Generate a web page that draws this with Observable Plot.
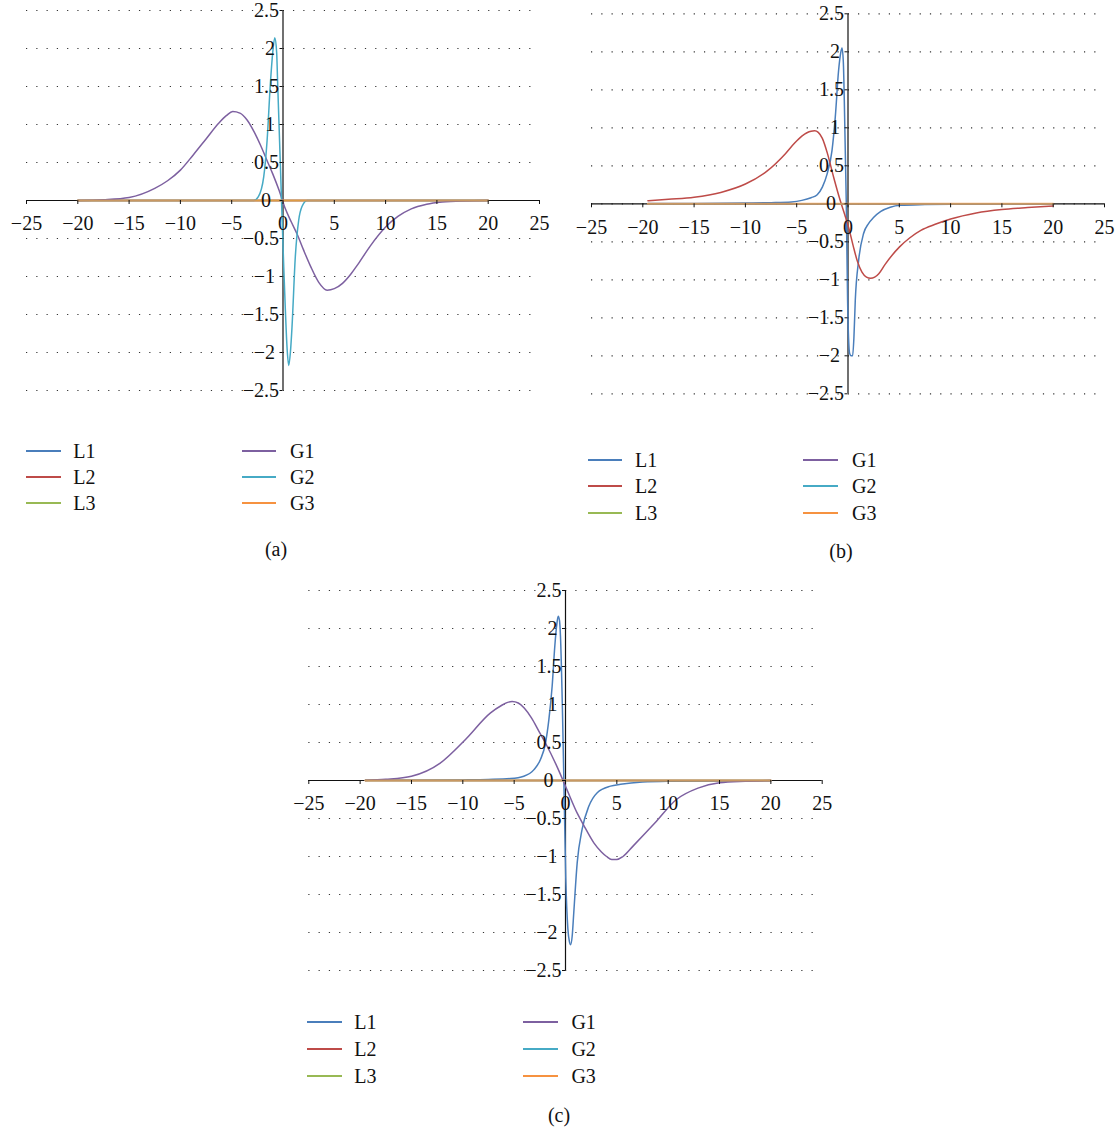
<!DOCTYPE html>
<html><head><meta charset="utf-8">
<script src="https://cdn.jsdelivr.net/npm/d3@7"></script>
<script src="https://cdn.jsdelivr.net/npm/@observablehq/plot@0.6"></script>
<style>
html,body{margin:0;padding:0;background:#fff;}
#page{position:relative;width:1120px;height:1130px;overflow:hidden;font-family:"Liberation Serif","DejaVu Serif",serif;color:#111;}
.panel{position:absolute;}
.sw{position:absolute;height:2px;}
.lt{position:absolute;font-size:20px;line-height:20px;white-space:nowrap;}
.cap{position:absolute;font-size:20px;line-height:20px;white-space:nowrap;transform:translateX(-50%);}
</style></head><body><div id="page"></div>
<script>
// ---------------- data ----------------
const seriesNames = ["L1", "L2", "L3", "G1", "G2", "G3"];
const xTickValues = [-25, -20, -15, -10, -5, 0, 5, 10, 15, 20, 25];
const yTickDecimals = [-2.5, -1.5, -0.5, 0.5, 1.5, 2.5];
const yTickIntegers = [-2, -1, 1, 2];
const yTickZero = [0];
const yGridValues = [-2.5, -2, -1.5, -1, -0.5, 0, 0.5, 1, 1.5, 2, 2.5];
const panelCaptions = ["(a)", "(b)", "(c)"];

// flat (zero) series
const zeroA_x = [-20, 20];
const zeroBC_x = [-19.5, 20];
const zero_y = [0, 0];

// panel (a)
const a_G1_x = [-20, -17.5, -15, -12.5, -11.25, -10, -8.75, -7.5, -6.25, -5.5, -4.9, -4.2, -3.5, -2.8, -2.2, -1.6, -1.0, -0.4, 0.2, 0.8, 1.4, 2.0, 2.7, 3.5, 4.3, 5.0, 5.8, 6.6, 7.3, 8.5, 10, 11.2, 12.5, 14, 15.5, 17.5, 20];
const a_G1_y = [0, 0.01, 0.04, 0.16, 0.26, 0.4, 0.6, 0.81, 1.02, 1.12, 1.17, 1.15, 1.06, 0.9, 0.73, 0.54, 0.35, 0.14, -0.1, -0.28, -0.45, -0.65, -0.87, -1.08, -1.18, -1.16, -1.09, -0.97, -0.84, -0.6, -0.35, -0.21, -0.11, -0.05, -0.02, -0.005, 0];
const a_G2_x = [-20, -5, -2.85, -2.4, -1.88, -1.55, -1.23, -1.0, -0.8, -0.62, -0.52, -0.25, -0.09, 0.07, 0.23, 0.4, 0.56, 0.72, 0.88, 1.2, 1.53, 1.85, 2.35, 5, 20];
const a_G2_y = [0, 0, 0, 0.05, 0.31, 0.79, 1.54, 1.95, 2.14, 1.95, 1.54, 0.44, -0.22, -0.87, -1.44, -1.95, -2.17, -2.0, -1.66, -0.74, -0.26, -0.08, 0, 0, 0];

// panel (b)
const b_L1_x = [-19.5, -15, -10, -7.5, -5.5, -4.5, -3.6, -3, -2.5, -2.04, -1.56, -1.24, -0.92, -0.72, -0.58, -0.45, -0.36, -0.17, -0.04, 0.16, 0.3, 0.45, 0.58, 0.71, 1.03, 1.52, 2.0, 2.49, 3.2, 4.12, 5.1, 7.5, 10, 15, 20];
const b_L1_y = [0.003, 0.005, 0.01, 0.015, 0.025, 0.045, 0.08, 0.12, 0.22, 0.39, 0.7, 1.14, 1.75, 1.98, 2.05, 1.85, 1.36, 0.04, -1.27, -1.97, -2.0, -2.0, -1.75, -1.27, -0.75, -0.39, -0.26, -0.18, -0.1, -0.045, -0.02, -0.01, -0.005, -0.003, -0.002];
const b_L2_x = [-19.5, -17.5, -15, -12.4, -10, -7.9, -6.1, -5.2, -4.5, -4.0, -3.6, -3.25, -2.9, -2.5, -2.0, -1.4, -0.75, -0.3, 0.06, 0.5, 0.9, 1.36, 1.8, 2.2, 2.6, 3.0, 3.6, 5.0, 6.0, 7.1, 8.5, 10, 12.5, 15, 17.5, 20];
const b_L2_y = [0.04, 0.06, 0.087, 0.15, 0.26, 0.43, 0.66, 0.8, 0.89, 0.935, 0.955, 0.96, 0.94, 0.86, 0.66, 0.35, 0.04, -0.15, -0.31, -0.55, -0.75, -0.9, -0.965, -0.98, -0.965, -0.92, -0.8, -0.57, -0.45, -0.35, -0.27, -0.2, -0.12, -0.075, -0.05, -0.03];

// panel (c)
const c_L1_x = [-19.5, -15, -10, -7.5, -5.36, -4.06, -3.09, -2.43, -1.95, -1.62, -1.3, -1.04, -0.85, -0.71, -0.58, -0.49, -0.29, -0.13, 0.03, 0.23, 0.38, 0.5, 0.65, 0.81, 1.14, 1.62, 2.27, 3.09, 4.38, 5.36, 7.5, 10, 15, 20];
const c_L1_y = [0.002, 0.003, 0.008, 0.014, 0.026, 0.057, 0.14, 0.28, 0.49, 0.8, 1.24, 1.77, 2.05, 2.16, 2.1, 1.9, 0.88, -0.2, -1.3, -1.95, -2.12, -2.16, -2.05, -1.73, -1.08, -0.64, -0.34, -0.16, -0.074, -0.05, -0.02, -0.01, -0.005, -0.003];
const c_G1_x = [-19.5, -17.5, -15, -12.2, -9.74, -7.3, -6.2, -5.7, -5.2, -4.6, -4.0, -3.3, -2.6, -1.9, -0.75, 0.17, 1.14, 1.74, 2.76, 3.5, 4.0, 4.5, 5.0, 5.6, 6.6, 8.7, 10.8, 12.9, 15, 17.5, 20];
const c_G1_y = [0, 0.015, 0.057, 0.23, 0.54, 0.89, 0.99, 1.025, 1.04, 1.02, 0.95, 0.82, 0.65, 0.48, 0.16, -0.13, -0.43, -0.58, -0.82, -0.94, -1.0, -1.04, -1.04, -1.0, -0.86, -0.56, -0.25, -0.1, -0.03, -0.01, 0];

// ---------------- styles ----------------
const seriesColors = {L1: "#4A7EBB", L2: "#BE4B48", L3: "#98B954", G1: "#7D60A0", G2: "#46AAC5", G3: "#F69240"};
const fontStack = "'Liberation Serif', 'DejaVu Serif', serif";

const panels = [
  {
    caption: panelCaptions[0], left: 0, top: 0, margin: [10, 21, 30, 26],
    series: {L1: [zeroA_x, zero_y], L2: [zeroA_x, zero_y], L3: [zeroA_x, zero_y], G1: [a_G1_x, a_G1_y], G2: [a_G2_x, a_G2_y], G3: [zeroA_x, zero_y]},
    legend: {rows: [450.7, 476.7, 503.3], l: [25.7, 60.7, 73.2], g: [241.8, 276, 290]},
    cap: [276, 539]
  },
  {
    caption: panelCaptions[1], left: 560, top: 0, margin: [13.3, 16, 26.7, 31],
    series: {L1: [b_L1_x, b_L1_y], L2: [b_L2_x, b_L2_y], L3: [zeroBC_x, zero_y], G1: [zeroBC_x, zero_y], G2: [zeroBC_x, zero_y], G3: [zeroBC_x, zero_y]},
    legend: {rows: [460, 486, 512.7], l: [587.9, 622.5, 635], g: [802.9, 837.9, 852.1]},
    cap: [841, 541]
  },
  {
    caption: panelCaptions[2], left: 290, top: 570, margin: [20, 28.3, 20, 18.3],
    series: {L1: [c_L1_x, c_L1_y], L2: [zeroBC_x, zero_y], L3: [zeroBC_x, zero_y], G1: [c_G1_x, c_G1_y], G2: [zeroBC_x, zero_y], G3: [zeroBC_x, zero_y]},
    legend: {rows: [1022.3, 1049, 1075.7], l: [307.1, 342.5, 354.3], g: [522.9, 557.9, 571.4]},
    cap: [559, 1105]
  }
];

const fmt = d => (d < 0 ? "\u2212" : "") + Math.abs(d);
const page = document.getElementById("page");

for (const p of panels) {
  const W = 560, H = 420;
  const [mt, mr, mb, ml] = p.margin;
  const innerW = W - ml - mr, innerH = H - mt - mb;
  const lineMarks = seriesNames.map(name => {
    const [xs, ys] = p.series[name];
    const rows = xs.map((x, i) => ({x, y: ys[i]}));
    return Plot.line(rows, {
      x: "x", y: "y", stroke: seriesColors[name],
      strokeWidth: name === "G3" ? 2 : 1.5, strokeOpacity: name === "G3" ? 0.75 : 1,
      curve: "monotone-x"
    });
  });
  const chart = Plot.plot({
    width: W, height: H,
    marginTop: mt, marginRight: mr, marginBottom: mb, marginLeft: ml,
    x: {domain: [-25, 25]},
    y: {domain: [-2.5, 2.5]},
    style: {fontFamily: fontStack, fontSize: "20px", background: "transparent", color: "#111"},
    marks: [
      Plot.gridY(yGridValues, {stroke: "#333", strokeOpacity: 1, strokeWidth: 1.2, strokeDasharray: "1.2 9.07"}),
      Plot.ruleY([0], {stroke: "#111", strokeWidth: 1.2}),
      Plot.ruleX([0], {stroke: "#111", strokeWidth: 1.2}),
      ...lineMarks,
      Plot.axisX(xTickValues, {anchor: "bottom", dy: -innerH / 2, tickSize: 4, tickPadding: 11.5, tickFormat: fmt, label: null, fontFamily: fontStack}),
      Plot.axisY(yTickDecimals, {anchor: "left", dx: innerW / 2, tickSize: 3, tickPadding: 1, tickFormat: fmt, label: null, fontFamily: fontStack}),
      Plot.axisY(yTickIntegers, {anchor: "left", dx: innerW / 2, tickSize: 3, tickPadding: 5, tickFormat: fmt, label: null, fontFamily: fontStack}),
      Plot.axisY(yTickZero, {anchor: "left", dx: innerW / 2, tickSize: 3, tickPadding: 9, tickFormat: fmt, label: null, fontFamily: fontStack})
    ]
  });
  const holder = document.createElement("div");
  holder.className = "panel";
  holder.style.left = p.left + "px";
  holder.style.top = p.top + "px";
  holder.appendChild(chart);
  page.appendChild(holder);

  // legend
  const cols = [["L1", "L2", "L3"], ["G1", "G2", "G3"]];
  cols.forEach((col, ci) => {
    const [x1, x2, tx] = ci === 0 ? p.legend.l : p.legend.g;
    col.forEach((name, ri) => {
      const cy = p.legend.rows[ri];
      const sw = document.createElement("div");
      sw.className = "sw";
      sw.style.left = x1 + "px";
      sw.style.width = (x2 - x1) + "px";
      sw.style.top = (cy - 1) + "px";
      sw.style.background = seriesColors[name];
      page.appendChild(sw);
      const t = document.createElement("div");
      t.className = "lt";
      t.style.left = tx + "px";
      t.style.top = (cy - 10) + "px";
      t.textContent = name;
      page.appendChild(t);
    });
  });
  const cap = document.createElement("div");
  cap.className = "cap";
  cap.style.left = p.cap[0] + "px";
  cap.style.top = p.cap[1] + "px";
  cap.textContent = p.caption;
  page.appendChild(cap);
}
</script>
</body></html>
